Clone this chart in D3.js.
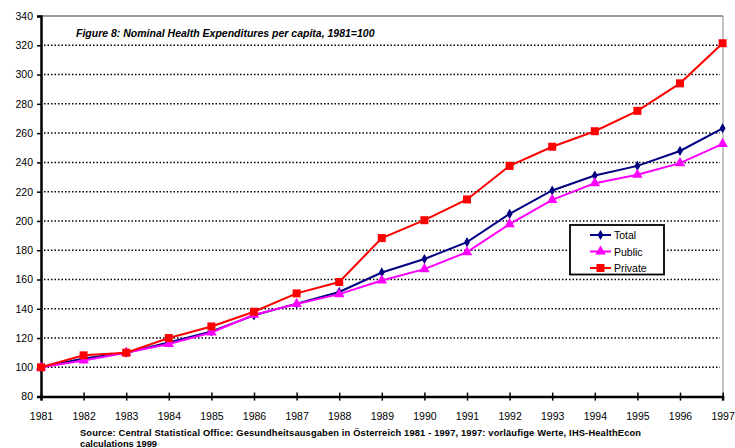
<!doctype html>
<html>
<head>
<meta charset="utf-8">
<style>
  body { margin: 0; background: #fff; }
  svg { display: block; font-family: "Liberation Sans", Arial, sans-serif; }
  .grid line { stroke: #000; stroke-width: 1.5; stroke-dasharray: 1.5, 2; }
</style>
<script src="https://d3js.org/d3.v7.min.js"></script>
</head>
<body>
<svg width="735" height="448"></svg>
<script>
var years = [1981, 1982, 1983, 1984, 1985, 1986, 1987, 1988, 1989, 1990, 1991, 1992, 1993, 1994, 1995, 1996, 1997];
var total   = [100, 106, 110, 117, 124.5, 135.5, 143.5, 151.5, 164.8, 174, 185.5, 204.8, 220.8, 231, 237.6, 247.8, 263.3];
var publicS = [100, 104.7, 110, 116, 123.8, 135.9, 143.2, 150, 159.3, 167.1, 178.7, 197.8, 214.4, 225.8, 231.5, 239.5, 252.6];
var privateS = [100, 108.2, 110, 120, 127.9, 138, 150.5, 158.3, 188.3, 200.5, 214.7, 237.6, 250.7, 261.3, 275.2, 294, 321.4];
var yTicks = [80, 100, 120, 140, 160, 180, 200, 220, 240, 260, 280, 300, 320, 340];

var series = [
  { name: "Total", values: total, color: "#000080", marker: "diamond" },
  { name: "Public", values: publicS, color: "#FF00FF", marker: "triangle" },
  { name: "Private", values: privateS, color: "#FF0000", marker: "square" }
];

var svg = d3.select("svg");

var x = d3.scaleLinear().domain([1981, 1997]).range([41, 722.6]);
var y = d3.scaleLinear().domain([80, 340]).range([396.6, 16]);

// gridlines
svg.append("g").attr("class", "grid")
  .selectAll("line")
  .data(yTicks.filter(function(d) { return d > 80 && d < 340; }))
  .enter().append("line")
  .attr("x1", 44).attr("x2", 720)
  .attr("y1", function(d) { return y(d); })
  .attr("y2", function(d) { return y(d); });

// plot frame: top and right in gray
svg.append("line")
  .attr("x1", 41).attr("x2", 723).attr("y1", y(340)).attr("y2", y(340))
  .attr("stroke", "#9a9a9a").attr("stroke-width", 2);
svg.append("line")
  .attr("x1", 723).attr("x2", 723).attr("y1", y(340)).attr("y2", y(80))
  .attr("stroke", "#8a8a8a").attr("stroke-width", 1);

// y axis
var yAxis = svg.append("g")
  .attr("transform", "translate(41,0)")
  .call(d3.axisLeft(y).tickValues(yTicks).tickSize(4).tickPadding(4));
yAxis.select(".domain").attr("stroke-width", 2.5);
yAxis.selectAll(".tick line").attr("stroke-width", 1.5);
yAxis.selectAll("text").attr("font-size", "10.5px").attr("fill", "#000")
  .attr("font-family", "Liberation Sans, Arial, sans-serif");

// x axis
var xAxis = svg.append("g")
  .attr("transform", "translate(0," + y(80) + ")")
  .call(d3.axisBottom(x).tickValues(years).tickFormat(d3.format("d")).tickSize(4).tickPadding(12));
xAxis.select(".domain").attr("stroke-width", 2.5);
xAxis.selectAll(".tick line").attr("y1", -4).attr("stroke-width", 1.5);
xAxis.selectAll("text").attr("font-size", "10.5px").attr("fill", "#000")
  .attr("font-family", "Liberation Sans, Arial, sans-serif");

// title
svg.append("text")
  .attr("x", 76).attr("y", 37)
  .attr("font-size", "10.5px").attr("font-weight", "bold").attr("font-style", "italic")
  .text("Figure 8: Nominal Health Expenditures per capita, 1981=100");

function marker(sel, type, color) {
  var sym = type === "square" ? d3.symbolSquare : type === "triangle" ? d3.symbolTriangle : d3.symbolDiamond;
  var area = type === "square" ? 64 : type === "triangle" ? 48 : 30;
  sel.append("path")
    .attr("d", d3.symbol().type(sym).size(area))
    .attr("fill", color);
}

var line = d3.line()
  .x(function(d, i) { return x(years[i]); })
  .y(function(d) { return y(d); });

series.forEach(function(s) {
  svg.append("path")
    .datum(s.values)
    .attr("d", line)
    .attr("fill", "none")
    .attr("stroke", s.color)
    .attr("stroke-width", 2);
  s.values.forEach(function(v, i) {
    var g = svg.append("g").attr("transform", "translate(" + x(years[i]) + "," + y(v) + ")");
    marker(g, s.marker, s.color);
  });
});

// legend
var legend = svg.append("g");
legend.append("rect")
  .attr("x", 570).attr("y", 225).attr("width", 94).attr("height", 49.5)
  .attr("fill", "#fff").attr("stroke", "#000").attr("stroke-width", 1.8);
series.forEach(function(s, i) {
  var ly = 235 + i * 16.5;
  legend.append("line")
    .attr("x1", 590).attr("x2", 611).attr("y1", ly).attr("y2", ly)
    .attr("stroke", s.color).attr("stroke-width", 2);
  var g = legend.append("g").attr("transform", "translate(600.5," + ly + ")");
  marker(g, s.marker, s.color);
  legend.append("text")
    .attr("x", 614).attr("y", ly + 4)
    .attr("font-size", "10.5px")
    .text(s.name);
});

// source note
svg.append("text")
  .attr("x", 80).attr("y", 436)
  .attr("font-size", "9.3px").attr("font-weight", "bold")
  .attr("textLength", 561).attr("lengthAdjust", "spacing")
  .text("Source: Central Statistical Office: Gesundheitsausgaben in Österreich 1981 - 1997, 1997: vorläufige Werte, IHS-HealthEcon");
svg.append("text")
  .attr("x", 80).attr("y", 447)
  .attr("font-size", "9.3px").attr("font-weight", "bold")
  .text("calculations 1999");
</script>
</body>
</html>
